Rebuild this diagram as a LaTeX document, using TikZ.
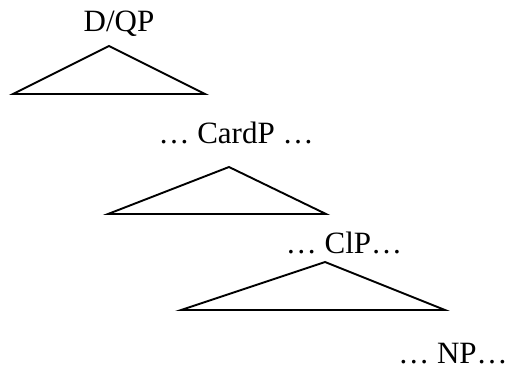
\documentclass[tikz,border=0pt]{standalone}
\usepackage{fontspec}
\setmainfont{Liberation Serif}
\begin{document}
\begin{tikzpicture}[x=1pt,y=-1pt,
  lbl/.style={anchor=base,inner sep=0pt,font=\fontsize{31}{36}\selectfont},
  tri/.style={draw,line width=1.9pt,line join=miter}]
\useasboundingbox (0,0) rectangle (510,369);
\node[lbl] (dqp) at (119,32) {D/QP};
\draw[tri] (13,94) -- (109,46) -- (205,94) -- cycle;
\node[lbl] (card) at (236,143) {… CardP …};
\draw[tri] (108,214) -- (229,167) -- (326,214) -- cycle;
\node[lbl] (clp) at (344,253) {… ClP…};
\draw[tri] (181,310) -- (325,262) -- (445,310) -- cycle;
\node[lbl] (np) at (453,363) {… NP…};
\end{tikzpicture}
\end{document}
